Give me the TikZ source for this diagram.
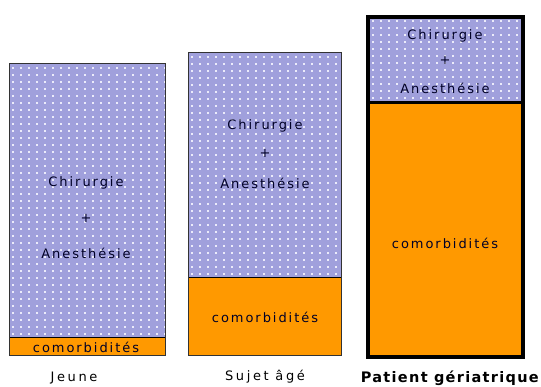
\documentclass[tikz,border=0pt]{standalone}
\usepackage{fontspec}
\setmainfont{DejaVu Sans}[LetterSpace=15]
\newfontfamily\labfont{DejaVu Sans}[LetterSpace=20]
\newfontfamily\boldlab{DejaVu Sans}[LetterSpace=9]
\definecolor{lav}{RGB}{160,160,220}
\definecolor{dotc}{RGB}{235,235,250}
\definecolor{orng}{RGB}{255,153,0}
\tikzset{
  x=1pt, y=-1pt,
  frame/.style={draw=black!80, line width=1pt},
  thickframe/.style={draw=black, line width=4pt},
  txt/.style={font=\fontsize{13}{14}\selectfont, text=black!85!blue, inner sep=0pt},
  lab/.style={font=\labfont\fontsize{13}{14}\selectfont, text=black, inner sep=0pt},
  blab/.style={font=\boldlab\bfseries\fontsize{14.5}{16}\selectfont, text=black, inner sep=0pt},
}
\newcommand{\dotgrid}[4]{%
  \begin{scope}
    \clip (#1,#2) rectangle (#3,#4);
    \pgfmathsetmacro{\nx}{int((#3-#1)/8)}
    \pgfmathsetmacro{\ny}{int((#4-#2)/7)}
    \foreach \i in {0,...,\nx} {
      \foreach \j in {0,...,\ny} {
        \fill[dotc] ({#1+4+8*\i-0.8},{#2+4+7*\j-0.8}) rectangle ++(1.6,1.6);
      }
    }
  \end{scope}}
\begin{document}
\begin{tikzpicture}
\useasboundingbox[fill=white] (0,0) rectangle (541,387);
% Box 1
\fill[lav] (9,64) rectangle (165,337);
\dotgrid{9}{64}{165}{337}
\fill[orng] (9,337) rectangle (165,356);
\draw[black, line width=0.8pt] (9,337) -- (165,337);
\draw[frame] (9,64) rectangle (165,356);
\node[txt] (c1) at (86,183) {Chirurgie};
\node[txt] (p1) at (86,218) {+};
\node[txt] (a1) at (86,253) {Anesthésie};
\node[txt] (m1) at (86,347) {comorbidités};
\node[lab] (l1) at (74,378) {Jeune};
% Box 2
\fill[lav] (188,53) rectangle (341,277);
\dotgrid{188}{53}{341}{277}
\fill[orng] (188,277) rectangle (341,356);
\draw[black, line width=0.8pt] (188,277) -- (341,277);
\draw[frame] (188,53) rectangle (341,356);
\node[txt] (c2) at (265,126) {Chirurgie};
\node[txt] (p2) at (265,153) {+};
\node[txt] (a2) at (265,183) {Anesthésie};
\node[txt] (m2) at (265,317) {comorbidités};
\node[lab] (l2) at (265,377) {Sujet âgé};
% Box 3
\fill[lav] (369,17) rectangle (522,103);
\dotgrid{369}{17}{522}{103}
\fill[orng] (369,103) rectangle (522,356);
\draw[black, line width=3pt] (369,103) -- (522,103);
\draw[thickframe] (368,17) rectangle (523,357);
\node[txt] (c3) at (445,36) {Chirurgie};
\node[txt] (p3) at (445,60) {+};
\node[txt] (a3) at (445,88) {Anesthésie};
\node[txt] (m3) at (445,243) {comorbidités};
\node[blab, anchor=east] (l3) at (539,378) {Patient gériatrique};
\end{tikzpicture}
\end{document}
